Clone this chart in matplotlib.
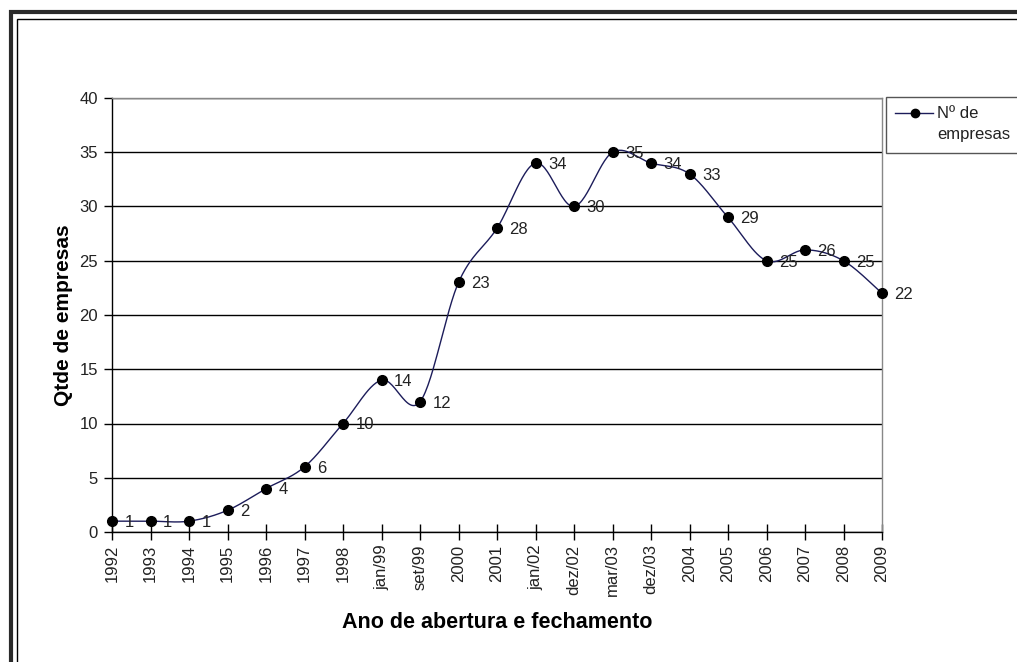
import numpy as np
import matplotlib.pyplot as plt
from matplotlib.lines import Line2D
from matplotlib.patches import Rectangle

plt.rcParams["font.family"] = ["Liberation Sans", "DejaVu Sans"]

categories = ["1992", "1993", "1994", "1995", "1996", "1997", "1998", "jan/99",
              "set/99", "2000", "2001", "jan/02", "dez/02", "mar/03", "dez/03",
              "2004", "2005", "2006", "2007", "2008", "2009"]
empresas = [1, 1, 1, 2, 4, 6, 10, 14, 12, 23, 28, 34, 30, 35, 34, 33, 29, 25, 26, 25, 22]
y_ticks = [0, 5, 10, 15, 20, 25, 30, 35, 40]

line_color = "#1c1c5a"
text_color = "#222222"


def smooth_curve(xs, ys, steps=30):
    # catmull-rom style bezier segments, roughly what excel does for "smoothed line"
    xs = np.asarray(xs, dtype=float)
    ys = np.asarray(ys, dtype=float)
    px = np.concatenate([[xs[0]], xs, [xs[-1]]])
    py = np.concatenate([[ys[0]], ys, [ys[-1]]])
    t = np.linspace(0, 1, steps)
    out_x, out_y = [], []
    for i in range(1, len(px) - 2):
        x0, x1, x2, x3 = px[i - 1:i + 3]
        y0, y1, y2, y3 = py[i - 1:i + 3]
        cx1, cy1 = x1 + (x2 - x0) / 6, y1 + (y2 - y0) / 6
        cx2, cy2 = x2 - (x3 - x1) / 6, y2 - (y3 - y1) / 6
        bx = (1 - t) ** 3 * x1 + 3 * (1 - t) ** 2 * t * cx1 + 3 * (1 - t) * t ** 2 * cx2 + t ** 3 * x2
        by = (1 - t) ** 3 * y1 + 3 * (1 - t) ** 2 * t * cy1 + 3 * (1 - t) * t ** 2 * cy2 + t ** 3 * y2
        out_x.append(bx)
        out_y.append(by)
    return np.concatenate(out_x), np.concatenate(out_y)


W, H = 1017, 662
fig = plt.figure(figsize=(W / 100, H / 100), dpi=100)
ax = fig.add_axes([112 / W, 1 - 532 / H, (882 - 112) / W, (532 - 98) / H])

x = np.arange(len(categories))
sx, sy = smooth_curve(x, empresas)
ax.plot(sx, sy, color=line_color, lw=1.0, zorder=3, clip_on=False)
ax.plot(x, empresas, "o", color="black", ms=7, zorder=4, clip_on=False)

for xi, v in zip(x, empresas):
    ax.annotate(str(v), (xi, v), xytext=(9, -1), textcoords="offset points",
                ha="left", va="center", fontsize=12, color=text_color, zorder=5)

ax.set_xlim(0, len(categories) - 1)
ax.set_ylim(0, 40)
ax.set_yticks(y_ticks)
ax.set_yticklabels([str(v) for v in y_ticks], fontsize=12, color=text_color)
ax.set_xticks(x)
ax.set_xticklabels(categories, rotation=90, fontsize=12, color=text_color)
ax.tick_params(axis="y", direction="out", length=6, width=1, pad=4)
ax.tick_params(axis="x", direction="inout", length=12, width=1, pad=3)

ax.yaxis.grid(True, color="black", lw=1)
ax.set_axisbelow(True)
for side in ["top", "right"]:
    ax.spines[side].set_color("#888888")
    ax.spines[side].set_linewidth(1)
for side in ["left", "bottom"]:
    ax.spines[side].set_color("black")
    ax.spines[side].set_linewidth(1)

ax.set_ylabel("Qtde de empresas", fontsize=15, fontweight="bold", labelpad=5)
ax.set_xlabel("Ano de abertura e fechamento", fontsize=15.5, fontweight="bold", labelpad=11)

# legend box drawn by hand, cut off by the right edge like the original
fig.add_artist(Rectangle((886 / W, 1 - 153 / H), 0.2, 56 / H, transform=fig.transFigure,
                         facecolor="white", edgecolor="#555555", lw=1, clip_on=False))
fig.add_artist(Line2D([895 / W, 933 / W], [1 - 113 / H, 1 - 113 / H], transform=fig.transFigure,
                      color=line_color, lw=1, marker=None))
fig.add_artist(Line2D([915 / W], [1 - 113 / H], transform=fig.transFigure,
                      color="black", marker="o", ms=6, lw=0))
fig.text(937 / W, 1 - 113 / H, "Nº de", fontsize=12, color=text_color, ha="left", va="center")
fig.text(937 / W, 1 - 135 / H, "empresas", fontsize=12, color=text_color, ha="left", va="center")

# outer picture frames
fig.add_artist(Rectangle((11 / W, -0.2), 1.3, 1 - 12.5 / H + 0.2, transform=fig.transFigure,
                         fill=False, edgecolor="#2a2a2a", lw=3, clip_on=False))
fig.add_artist(Rectangle((17 / W, -0.2), 1.3, 1 - 19 / H + 0.2, transform=fig.transFigure,
                         fill=False, edgecolor="black", lw=1, clip_on=False))

fig.savefig("out.png", dpi=100)
